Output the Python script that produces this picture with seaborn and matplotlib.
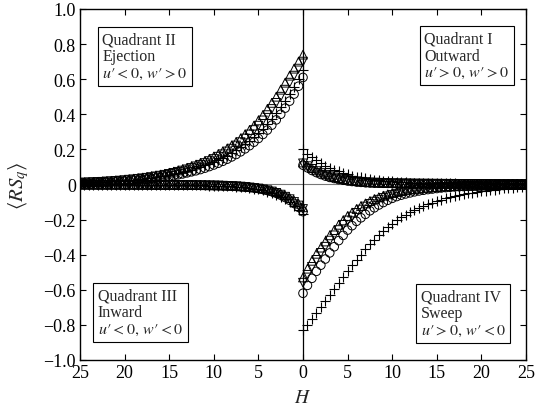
import numpy as np
import pandas as pd
import matplotlib
matplotlib.use("Agg")
import matplotlib.pyplot as plt
import seaborn as sns

# H positions (0 to 25, step 0.5)
H = np.arange(0, 25.01, 0.5)

# Quadrant I (outward, u'>0, w'>0) -- right side, positive
q1_up = [0.125,0.108,0.093,0.080,0.068,0.058,0.049,0.042,0.036,0.031,
         0.026,0.022,0.019,0.016,0.014,0.012,0.011,0.010,0.009,0.008,
         0.0075,0.007,0.0065,0.006,0.0055,0.0052,0.005,0.0048,0.0046,0.0044,
         0.0042,0.004,0.0038,0.0036,0.0035,0.0034,0.0033,0.0032,0.0031,0.003,
         0.0029,0.0028,0.0027,0.0026,0.0025,0.0024,0.0023,0.0022,0.0021,0.002,
         0.002]
q1_down = [0.12,0.104,0.089,0.076,0.065,0.055,0.047,0.040,0.034,0.029,
           0.025,0.021,0.018,0.015,0.013,0.0115,0.0105,0.0095,0.0085,0.0078,
           0.0072,0.0067,0.0062,0.0058,0.0054,0.005,0.0048,0.0046,0.0044,0.0042,
           0.004,0.0038,0.0036,0.0035,0.0034,0.0033,0.0032,0.0031,0.003,0.0029,
           0.0028,0.0027,0.0026,0.0025,0.0024,0.0023,0.0022,0.0021,0.002,0.002,
           0.0019]
q1_circ = [0.11,0.095,0.08,0.068,0.057,0.048,0.040,0.034,0.028,0.024,
           0.020,0.017,0.014,0.012,0.010,0.009,0.008,0.0073,0.0067,0.0062,
           0.0058,0.0054,0.005,0.0047,0.0044,0.0042,0.004,0.0038,0.0036,0.0034,
           0.0033,0.0032,0.0031,0.003,0.0029,0.0028,0.0027,0.0026,0.0025,0.0024,
           0.0023,0.0022,0.0021,0.002,0.002,0.0019,0.0019,0.0018,0.0018,0.0017,
           0.0017]
q1_plus = [0.20,0.175,0.155,0.138,0.122,0.108,0.096,0.085,0.075,0.066,
           0.058,0.051,0.045,0.040,0.035,0.031,0.027,0.024,0.021,0.019,
           0.017,0.015,0.013,0.012,0.011,0.010,0.009,0.0085,0.008,0.0075,
           0.007,0.0066,0.0062,0.0058,0.0055,0.0052,0.005,0.0048,0.0046,0.0044,
           0.0042,0.004,0.0038,0.0036,0.0035,0.0034,0.0033,0.0032,0.0031,0.003,
           0.003]

# Quadrant II (ejection, u'<0, w'>0) -- left side, positive
q2_up = [0.74,0.70,0.66,0.62,0.58,0.54,0.50,0.465,0.43,0.395,
         0.365,0.335,0.31,0.285,0.262,0.242,0.222,0.205,0.188,0.173,
         0.159,0.146,0.134,0.123,0.113,0.104,0.095,0.087,0.080,0.073,
         0.067,0.061,0.056,0.051,0.047,0.043,0.039,0.036,0.033,0.030,
         0.027,0.025,0.023,0.021,0.019,0.017,0.015,0.014,0.013,0.012,
         0.011]
q2_down = [0.70,0.66,0.62,0.58,0.54,0.50,0.465,0.43,0.395,0.365,
           0.335,0.31,0.285,0.262,0.241,0.222,0.204,0.188,0.172,0.158,
           0.145,0.133,0.122,0.112,0.103,0.094,0.086,0.079,0.072,0.066,
           0.060,0.055,0.050,0.046,0.042,0.038,0.035,0.032,0.029,0.027,
           0.024,0.022,0.020,0.018,0.017,0.015,0.014,0.013,0.012,0.011,
           0.010]
q2_plus = [0.65,0.60,0.555,0.515,0.475,0.44,0.405,0.375,0.345,0.318,
           0.293,0.27,0.249,0.229,0.211,0.194,0.179,0.165,0.152,0.140,
           0.129,0.119,0.109,0.100,0.092,0.085,0.078,0.072,0.066,0.061,
           0.056,0.051,0.047,0.043,0.039,0.036,0.033,0.030,0.028,0.025,
           0.023,0.021,0.019,0.017,0.016,0.014,0.013,0.012,0.011,0.010,
           0.009]
q2_circ = [0.61,0.56,0.515,0.475,0.435,0.40,0.368,0.338,0.31,0.285,
           0.262,0.241,0.221,0.203,0.186,0.171,0.157,0.144,0.132,0.121,
           0.111,0.102,0.093,0.085,0.078,0.072,0.066,0.060,0.055,0.050,
           0.046,0.042,0.039,0.036,0.033,0.030,0.027,0.025,0.023,0.021,
           0.019,0.017,0.016,0.014,0.013,0.012,0.011,0.010,0.009,0.008,
           0.008]

# Quadrant III (inward, u'<0, w'<0) -- left side, negative
q3_up = [-0.13,-0.11,-0.092,-0.077,-0.064,-0.053,-0.044,-0.036,-0.030,-0.025,
         -0.021,-0.018,-0.015,-0.013,-0.011,-0.0095,-0.008,-0.007,-0.0062,-0.0055,
         -0.005,-0.0046,-0.0042,-0.0039,-0.0036,-0.0034,-0.0032,-0.003,-0.0028,-0.0027,
         -0.0026,-0.0025,-0.0024,-0.0023,-0.0022,-0.0021,-0.002,-0.0019,-0.0018,-0.0018,
         -0.0017,-0.0016,-0.0016,-0.0015,-0.0015,-0.0014,-0.0014,-0.0013,-0.0013,-0.0012,
         -0.0012]
q3_down = [-0.14,-0.12,-0.10,-0.084,-0.07,-0.058,-0.048,-0.04,-0.033,-0.028,
           -0.023,-0.020,-0.017,-0.014,-0.012,-0.0105,-0.009,-0.008,-0.007,-0.0062,
           -0.0056,-0.0051,-0.0047,-0.0043,-0.004,-0.0037,-0.0035,-0.0033,-0.0031,-0.003,
           -0.0028,-0.0027,-0.0026,-0.0025,-0.0024,-0.0023,-0.0022,-0.0021,-0.002,-0.002,
           -0.0019,-0.0018,-0.0018,-0.0017,-0.0017,-0.0016,-0.0016,-0.0015,-0.0015,-0.0014,
           -0.0014]
q3_plus = [-0.17,-0.145,-0.122,-0.102,-0.085,-0.071,-0.059,-0.049,-0.041,-0.034,
           -0.028,-0.024,-0.020,-0.017,-0.015,-0.013,-0.011,-0.0095,-0.0083,-0.0074,
           -0.0066,-0.006,-0.0055,-0.005,-0.0046,-0.0043,-0.004,-0.0037,-0.0035,-0.0033,
           -0.0031,-0.003,-0.0028,-0.0027,-0.0026,-0.0025,-0.0024,-0.0023,-0.0022,-0.0021,
           -0.002,-0.002,-0.0019,-0.0018,-0.0018,-0.0017,-0.0017,-0.0016,-0.0016,-0.0015,
           -0.0015]
q3_circ = [-0.155,-0.13,-0.108,-0.09,-0.074,-0.061,-0.050,-0.041,-0.034,-0.028,
           -0.023,-0.019,-0.016,-0.014,-0.012,-0.010,-0.009,-0.008,-0.007,-0.0065,
           -0.006,-0.0055,-0.005,-0.0046,-0.0043,-0.004,-0.0037,-0.0035,-0.0033,-0.0031,
           -0.003,-0.0028,-0.0027,-0.0026,-0.0025,-0.0024,-0.0023,-0.0022,-0.0021,-0.002,
           -0.002,-0.0019,-0.0018,-0.0018,-0.0017,-0.0017,-0.0016,-0.0016,-0.0015,-0.0015,
           -0.0014]

# Quadrant IV (sweep, u'>0, w'<0) -- right side, negative
q4_up = [-0.53,-0.48,-0.435,-0.395,-0.36,-0.325,-0.29,-0.26,-0.23,-0.205,
         -0.18,-0.16,-0.14,-0.123,-0.108,-0.095,-0.083,-0.073,-0.064,-0.056,
         -0.049,-0.043,-0.038,-0.033,-0.029,-0.026,-0.023,-0.020,-0.018,-0.016,
         -0.014,-0.0125,-0.011,-0.010,-0.009,-0.0082,-0.0075,-0.007,-0.0065,-0.006,
         -0.0056,-0.0052,-0.0048,-0.0045,-0.0042,-0.004,-0.0038,-0.0036,-0.0034,-0.0032,
         -0.003]
q4_down = [-0.56,-0.515,-0.47,-0.43,-0.39,-0.355,-0.32,-0.29,-0.26,-0.23,
           -0.205,-0.183,-0.162,-0.143,-0.126,-0.111,-0.098,-0.087,-0.077,-0.068,
           -0.060,-0.053,-0.047,-0.041,-0.036,-0.032,-0.028,-0.025,-0.022,-0.019,
           -0.017,-0.015,-0.0135,-0.012,-0.011,-0.010,-0.009,-0.0082,-0.0075,-0.007,
           -0.0065,-0.006,-0.0056,-0.0052,-0.0048,-0.0045,-0.0042,-0.004,-0.0038,-0.0036,
           -0.0034]
q4_plus = [-0.83,-0.80,-0.765,-0.735,-0.70,-0.665,-0.63,-0.595,-0.56,-0.53,
           -0.495,-0.46,-0.43,-0.40,-0.37,-0.34,-0.315,-0.29,-0.265,-0.245,
           -0.225,-0.205,-0.188,-0.172,-0.158,-0.145,-0.133,-0.122,-0.112,-0.103,
           -0.094,-0.086,-0.079,-0.072,-0.066,-0.060,-0.055,-0.050,-0.046,-0.042,
           -0.038,-0.035,-0.032,-0.029,-0.026,-0.023,-0.021,-0.018,-0.016,-0.014,
           -0.012]
q4_circ = [-0.62,-0.575,-0.535,-0.495,-0.46,-0.425,-0.39,-0.355,-0.32,-0.29,
           -0.26,-0.235,-0.21,-0.19,-0.17,-0.15,-0.133,-0.117,-0.103,-0.09,
           -0.079,-0.069,-0.061,-0.054,-0.048,-0.042,-0.037,-0.033,-0.029,-0.026,
           -0.023,-0.020,-0.018,-0.016,-0.014,-0.013,-0.012,-0.011,-0.010,-0.009,
           -0.008,-0.0075,-0.007,-0.0065,-0.006,-0.0055,-0.005,-0.0047,-0.0044,-0.0042,
           -0.004]

x_ticks = [-25, -20, -15, -10, -5, 0, 5, 10, 15, 20, 25]
x_tick_labels = ["25", "20", "15", "10", "5", "0", "5", "10", "15", "20", "25"]
y_ticks = [1.0, 0.8, 0.6, 0.4, 0.2, 0.0, -0.2, -0.4, -0.6, -0.8, -1.0]
y_tick_labels = ["1.0", "0.8", "0.6", "0.4", "0.2", "0",
                 "\u22120.2", "\u22120.4", "\u22120.6", "\u22120.8", "\u22121.0"]

series = {
    "up": (q1_up, q2_up, q3_up, q4_up),
    "down": (q1_down, q2_down, q3_down, q4_down),
    "circ": (q1_circ, q2_circ, q3_circ, q4_circ),
    "plus": (q1_plus, q2_plus, q3_plus, q4_plus),
}
rows = []
for name, (a1, a2, a3, a4) in series.items():
    for h, v in zip(H, a1):
        rows.append((name, h, v))
    for h, v in zip(H, a2):
        rows.append((name, -h, v))
    for h, v in zip(H, a3):
        rows.append((name, -h, v))
    for h, v in zip(H, a4):
        rows.append((name, h, v))
df = pd.DataFrame(rows, columns=["series", "x", "y"])

sns.set_style("ticks")
plt.rcParams["font.family"] = ["Liberation Serif", "DejaVu Serif"]
plt.rcParams["mathtext.fontset"] = "stix"

fig = plt.figure(figsize=(5.37, 4.06), dpi=100)
ax = fig.add_axes([0.149, 0.111, 0.9795 - 0.149, 0.9754 - 0.111])

ax.axhline(0, color="#777777", lw=0.8, zorder=1)
ax.axvline(0, color="black", lw=0.9, zorder=1)

markers = {"up": "^", "down": "v", "circ": "o", "plus": "+"}
sizes = {"up": 40, "down": 40, "circ": 38, "plus": 42}
for name in ["up", "down", "circ", "plus"]:
    sub = df[df["series"] == name]
    if name == "plus":
        sns.scatterplot(data=sub, x="x", y="y", marker="+", s=sizes[name],
                        color="black", linewidths=0.8, ax=ax, legend=False, zorder=3)
    else:
        sns.scatterplot(data=sub, x="x", y="y", marker=markers[name], s=sizes[name],
                        color="black", facecolor="none", edgecolor="black",
                        linewidths=0.7, ax=ax, legend=False, zorder=3)

ax.set_xlim(-25, 25)
ax.set_ylim(-1.0, 1.0)
ax.set_xticks(x_ticks)
ax.set_xticklabels(x_tick_labels)
ax.set_yticks(y_ticks)
ax.set_yticklabels(y_tick_labels)
ax.tick_params(direction="in", top=True, right=True, length=4, width=0.8,
               labelsize=13, colors="black", pad=3)
for sp in ax.spines.values():
    sp.set_color("black")
    sp.set_linewidth(1.0)

ax.set_xlabel("$H$", fontsize=14)
ax.set_ylabel(r"$\langle RS_q\rangle$", fontsize=15)
ax.xaxis.set_label_coords(0.5, -0.083)
ax.yaxis.set_label_coords(-0.11, 0.5)

box = dict(boxstyle="square,pad=0.3", fc="white", ec="black", lw=0.8)
fs = 11.5
ax.text(-22.5, 0.87, "Quadrant II\nEjection\n$u\u2032 < 0,\\, w\u2032 > 0$", ha="left", va="top",
        fontsize=fs, linespacing=1.05, bbox=box, zorder=5)
ax.text(13.6, 0.875, "Quadrant I\nOutward\n$u\u2032 > 0,\\, w\u2032 > 0$", ha="left", va="top",
        fontsize=fs, linespacing=1.05, bbox=box, zorder=5)
ax.text(-23.0, -0.87, "Quadrant III\nInward\n$u\u2032 < 0,\\, w\u2032 < 0$", ha="left", va="bottom",
        fontsize=fs, linespacing=1.05, bbox=box, zorder=5)
ax.text(13.2, -0.875, "Quadrant IV\nSweep\n$u\u2032 > 0,\\, w\u2032 < 0$", ha="left", va="bottom",
        fontsize=fs, linespacing=1.05, bbox=box, zorder=5)

fig.savefig("out.png", dpi=100)
